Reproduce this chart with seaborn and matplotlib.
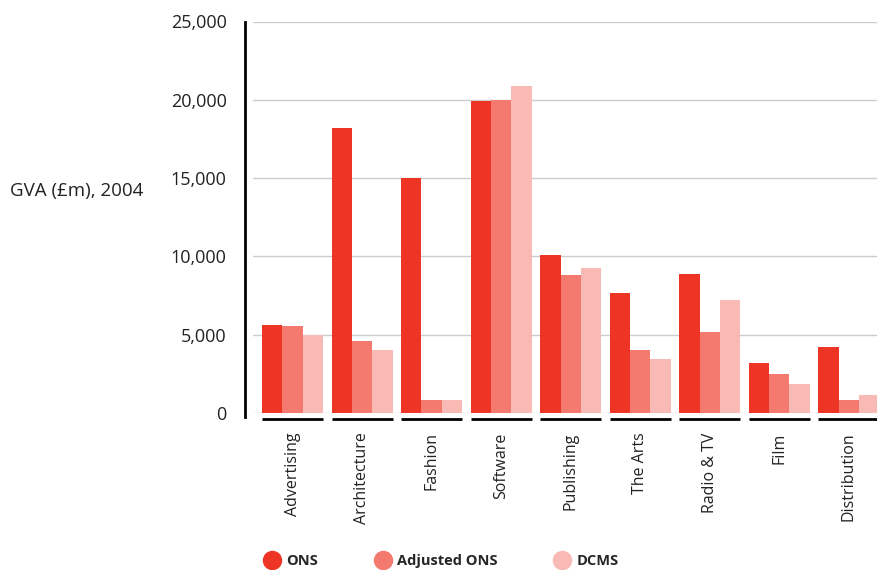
import seaborn as sns
import numpy as np
import pandas as pd
import matplotlib.pyplot as plt
from matplotlib.lines import Line2D
import matplotlib.transforms as mtransforms

sectors = ['Advertising', 'Architecture', 'Fashion', 'Software', 'Publishing',
           'The Arts', 'Radio & TV', 'Film', 'Distribution']
series = ['ONS', 'Adjusted ONS', 'DCMS']
ons = [5600, 18200, 15000, 19900, 10100, 7650, 8880, 3200, 4200]
adjusted_ons = [5550, 4600, 800, 20000, 8800, 4030, 5180, 2480, 800]
dcms = [5000, 4000, 800, 20900, 9250, 3450, 7200, 1850, 1150]
colours = ['#EE3424', '#F47A70', '#F9B9B5']
y_ticks = [0, 5000, 10000, 15000, 20000, 25000]

df = pd.DataFrame({'sector': sectors * 3,
                   'series': np.repeat(series, len(sectors)),
                   'gva': ons + adjusted_ons + dcms})

sns.set_style('white')
plt.rcParams['font.family'] = ['Open Sans', 'DejaVu Sans']

fig = plt.figure(figsize=(8.78, 5.70), dpi=100)
ax = fig.add_axes([253 / 878, 1 - 413 / 570, 1 - 253 / 878, (413 - 21.5) / 570])

sns.barplot(data=df, x='sector', y='gva', hue='series', order=sectors,
            hue_order=series, palette=colours, saturation=1, width=0.88,
            linewidth=0, legend=False, ax=ax)

ax.set_ylim(0, 25000)
ax.set_xlim(-0.57, 8.42)
ax.set_yticks(y_ticks)
ax.set_yticklabels([f'{v:,}' for v in y_ticks])
ax.yaxis.grid(True, color='#CCCCCC', linewidth=1)
ax.set_axisbelow(True)
ax.set_xlabel('')
ax.set_ylabel('')
ax.tick_params(axis='y', length=0, pad=13, colors='#222222', labelsize=13)
ax.tick_params(axis='x', length=0, pad=14, colors='#222222', labelsize=11.5)
plt.setp(ax.get_xticklabels(), rotation=90, va='top', ha='center')

for side in ['top', 'right', 'bottom']:
    ax.spines[side].set_visible(False)
ax.spines['left'].set_position(('outward', 6))
ax.spines['left'].set_color('black')
ax.spines['left'].set_linewidth(2)
ax.spines['left'].set_bounds(-250, 25000)

# underline below each group
trans = mtransforms.blended_transform_factory(ax.transData, ax.transAxes)
for i in range(len(sectors)):
    ax.plot([i - 0.44, i + 0.44], [-0.016, -0.016], color='black', lw=2,
            transform=trans, clip_on=False, solid_capstyle='butt')

fig.text(10 / 878, 1 - 191 / 570, 'GVA (£m), 2004', fontsize=13.5,
         va='center', ha='left', color='#222222')

handles = [Line2D([], [], marker='o', linestyle='', markersize=13,
                  markerfacecolor=c, markeredgecolor=c) for c in colours]
leg = fig.legend(handles, series, loc='center left',
                 bbox_to_anchor=(256 / 878, 1 - 561 / 570), ncol=3,
                 frameon=False, borderpad=0, handletextpad=0.4,
                 columnspacing=3.8, handlelength=1.2,
                 prop={'weight': 'bold', 'size': 10.5})

plt.savefig('out.png', dpi=100)
